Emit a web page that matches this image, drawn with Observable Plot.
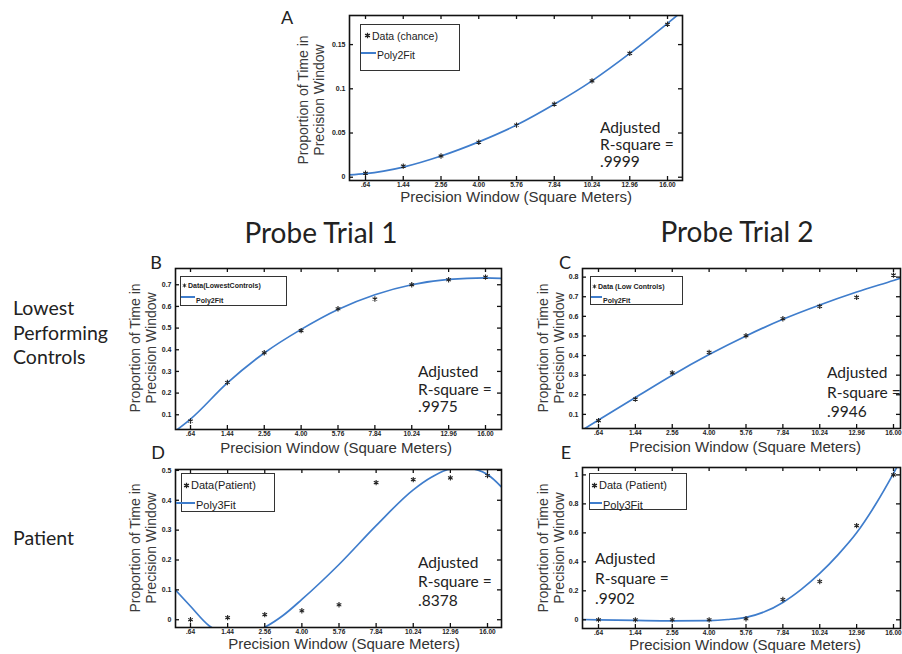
<!DOCTYPE html>
<html><head><meta charset="utf-8">
<script src="https://cdn.jsdelivr.net/npm/d3@7"></script>
<script src="https://cdn.jsdelivr.net/npm/@observablehq/plot@0.6"></script>
<style>
body{margin:0;background:#fff;}
#fig{position:relative;width:902px;height:654px;overflow:hidden;background:#fff;font-family:Lato,sans-serif;color:#222;}
.t{position:absolute;white-space:nowrap;}
.ylab{position:absolute;font-family:"Liberation Sans",Arial,sans-serif;font-size:14px;color:#3a3a3a;transform:translate(-50%,-50%) rotate(-90deg);text-align:center;line-height:16px;white-space:nowrap;}
.xlab{position:absolute;font-family:"Liberation Sans",Arial,sans-serif;font-size:15px;line-height:12px;color:#333;transform:translate(-50%,-50%);white-space:nowrap;}
.rsq{position:absolute;font-family:Lato,sans-serif;font-size:15.5px;color:#222;white-space:nowrap;}
.leg{position:absolute;border:1.5px solid #333;background:#fff;box-sizing:border-box;}
.let{position:absolute;font-family:Lato,sans-serif;font-size:18px;color:#222;transform:translate(-50%,-50%);}
</style></head>
<body><div id="fig"></div>
<script>
// ---------- data ----------
const xTickLabels = [".64","1.44","2.56","4.00","5.76","7.84","10.24","12.96","16.00"];
const windowIndex = [1,2,3,4,5,6,7,8,9];

const yTicksA = [0,0.05,0.1,0.15];
const yTickLabelsA = ["0","0.05","0.1","0.15"];
const dataA = [0.0045,0.0125,0.024,0.0396,0.059,0.0826,0.109,0.140,0.173];
const fitAx = [0.57,1,2,3,4,5,6,7,8,9,9.4];
const fitAy = [0.0026,0.004,0.0115,0.024,0.040,0.059,0.0825,0.109,0.140,0.174,0.188];

const yTicksB = [0.1,0.2,0.3,0.4,0.5,0.6,0.7];
const yTickLabelsB = ["0.1","0.2","0.3","0.4","0.5","0.6","0.7"];
const dataB = [0.071,0.249,0.386,0.488,0.589,0.634,0.700,0.723,0.735];
const fitBx = [0.59,1,2,3,4,5,6,7,8,9,9.44];
const fitBy = [0.025,0.08,0.247,0.385,0.494,0.586,0.654,0.700,0.725,0.732,0.729];

const yTicksC = [0.1,0.2,0.3,0.4,0.5,0.6,0.7,0.8];
const yTickLabelsC = ["0.1","0.2","0.3","0.4","0.5","0.6","0.7","0.8"];
const dataC = [0.068,0.178,0.312,0.416,0.501,0.588,0.651,0.697,0.81];
const fitCx = [0.56,1,2,3,4,5,6,7,8,9,9.2];
const fitCy = [0.02,0.071,0.186,0.300,0.405,0.500,0.585,0.658,0.724,0.783,0.795];

const yTicksD = [0,0.1,0.2,0.3,0.4,0.5];
const yTickLabelsD = ["0","0.1","0.2","0.3","0.4","0.5"];
const dataD = [0.0,0.007,0.017,0.030,0.050,0.459,0.469,0.475,0.483];
const fitDx = [0.59,1,1.5,2,2.5,3,3.5,4,5,6,7,7.5,8,8.5,9,9.38];
const fitDy = [0.1,0.045,-0.02,-0.046,-0.048,-0.025,0.015,0.068,0.185,0.315,0.435,0.478,0.504,0.506,0.486,0.444];

const yTicksE = [0,0.2,0.4,0.6,0.8,1];
const yTickLabelsE = ["0","0.2","0.4","0.6","0.8","1"];
const dataE = [0,0,0,0,0.007,0.14,0.264,0.65,1.0];
const fitEx = [0.56,1,2,3,4,4.5,5,5.5,6,6.5,7,7.5,8,8.5,9,9.19];
const fitEy = [0.002,0.0,-0.004,-0.007,-0.005,0.002,0.017,0.055,0.12,0.21,0.32,0.45,0.6,0.79,1.01,1.1];

// ---------- drawing ----------
const fig = document.getElementById("fig");
const blue = "#3f7dcc";

function drawPanel(p) {
  const padL = 30, padT = 6, padR = 6, padB = 14;
  const fw = p.R - p.L, fh = p.B - p.T;
  const pts = windowIndex.map((x,i)=>({x, y:p.data[i]}));
  const fit = p.fitX.map((x,i)=>({x, y:p.fitY[i]}));
  const tk = {stroke:"#111", strokeWidth:1.3};
  const svg = Plot.plot({
    width: fw+padL+padR, height: fh+padT+padB,
    marginLeft: padL, marginRight: padR, marginTop: padT, marginBottom: padB,
    x:{domain:p.xDomain}, y:{domain:p.yDomain},
    style:{background:"none", overflow:"visible", fontFamily:"Liberation Sans, Arial, sans-serif"},
    marks:[
      Plot.line(fit,{x:"x",y:"y",stroke:blue,strokeWidth:1.7,curve:"monotone-x",clip:true}),
      Plot.dot(pts,{x:"x",y:"y",symbol:"asterisk",r:2.5,stroke:"#222",strokeWidth:1.1}),
      Plot.tickX(windowIndex,{x:d=>d,insetTop:fh-4,...tk}),
      Plot.tickX(windowIndex,{x:d=>d,insetBottom:fh-4,...tk}),
      Plot.tickY(p.yTicks,{y:d=>d,insetRight:fw-4,...tk}),
      Plot.tickY(p.yTicks,{y:d=>d,insetLeft:fw-4,...tk}),
      Plot.axisX(windowIndex,{tickSize:0,tickPadding:2,tickFormat:d=>xTickLabels[d-1],fontSize:6.5,fontWeight:"bold",color:"#222",label:null}),
      Plot.axisY(p.yTicks,{tickSize:0,tickPadding:4,tickFormat:d=>p.yTickLabels[p.yTicks.indexOf(d)],fontSize:7,fontWeight:"bold",color:"#222",label:null}),
      Plot.frame({stroke:"#111",strokeWidth:1.6})
    ]
  });
  svg.style.position="absolute";
  svg.style.left=(p.L-padL)+"px";
  svg.style.top=(p.T-padT)+"px";
  fig.appendChild(svg);
}

function div(cls, html, x, y, extra) {
  const d = document.createElement("div");
  d.className = cls; d.innerHTML = html;
  d.style.left = x+"px"; d.style.top = y+"px";
  if (extra) Object.assign(d.style, extra);
  fig.appendChild(d);
  return d;
}

const star = (s)=>`<svg width="${s}" height="${s}" viewBox="-3 -3 6 6" style="vertical-align:middle"><path d="M0,-2.4V2.4M-2.1,-1.2L2.1,1.2M-2.1,1.2L2.1,-1.2" stroke="#222" stroke-width="1.1"/></svg>`;

function legend(b) {
  div("leg","",b.x,b.y,{width:b.w+"px",height:b.h+"px"});
  const f = `font-family:'Liberation Sans',Arial,sans-serif;font-size:${b.fs}px;font-weight:${b.fw};color:#222;`;
  div("t", star(b.ss)+`<span style="${f}margin-left:1px;vertical-align:middle">${b.t1}</span>`, b.sx, b.y1, {transform:"translateY(-50%)",lineHeight:"1"});
  const ln = document.createElement("div");
  Object.assign(ln.style,{position:"absolute",left:b.lx0+"px",top:(b.y2-1)+"px",width:(b.lx1-b.lx0)+"px",height:"2px",background:blue});
  fig.appendChild(ln);
  div("t", `<span style="${f}">${b.t2}</span>`, b.lx1+1, b.y2, {transform:"translateY(-50%)",lineHeight:"1"});
}

// Panel A
drawPanel({L:349,T:15,R:682,B:180,xDomain:[0.576,9.397],yDomain:[-0.0037,0.1829],yTicks:yTicksA,yTickLabels:yTickLabelsA,data:dataA,fitX:fitAx,fitY:fitAy});
// Panel B
drawPanel({L:175,T:268,R:501,B:429,xDomain:[0.593,9.434],yDomain:[0.032,0.775],yTicks:yTicksB,yTickLabels:yTickLabelsB,data:dataB,fitX:fitBx,fitY:fitBy});
// Panel C
drawPanel({L:582,T:268,R:900,B:428,xDomain:[0.566,9.19],yDomain:[0.028,0.844],yTicks:yTicksC,yTickLabels:yTickLabelsC,data:dataC,fitX:fitCx,fitY:fitCy});
// Panel D
drawPanel({L:175,T:469,R:501,B:627,xDomain:[0.596,9.377],yDomain:[-0.026,0.503],yTicks:yTicksD,yTickLabels:yTickLabelsD,data:dataD,fitX:fitDx,fitY:fitDy});
// Panel E
drawPanel({L:582,T:467,R:900,B:628,xDomain:[0.566,9.19],yDomain:[-0.06,1.051],yTicks:yTicksE,yTickLabels:yTickLabelsE,data:dataE,fitX:fitEx,fitY:fitEy});

// Legends
legend({x:360,y:24,w:100,h:47,sx:364,y1:34,ss:7,t1:"Data (chance)",lx0:361,lx1:376,y2:53,t2:"Poly2Fit",fs:10.5,fw:"normal"});
legend({x:180,y:276,w:107,h:30,sx:182,y1:284,ss:5,t1:"Data(LowestControls)",lx0:181,lx1:195,y2:297,t2:"Poly2Fit",fs:7,fw:"bold"});
legend({x:590,y:276,w:93,h:29,sx:592,y1:285,ss:5,t1:"Data (Low Controls)",lx0:591,lx1:602,y2:297,t2:"Poly2Fit",fs:7,fw:"bold"});
legend({x:181,y:473,w:94,h:39,sx:183,y1:484,ss:7,t1:"Data(Patient)",lx0:176,lx1:195,y2:503,t2:"Poly3Fit",fs:11,fw:"normal"});
legend({x:589,y:473,w:98,h:37,sx:591,y1:484,ss:7,t1:"Data (Patient)",lx0:590,lx1:602,y2:503,t2:"Poly3Fit",fs:11,fw:"normal"});

// Panel letters
div("let","A",287,17); div("let","B",156,262); div("let","C",565,262); div("let","D",158,452); div("let","E",566,452);

// Y-axis labels
const yl = "Proportion of Time in<br>Precision Window";
div("ylab",yl,311,100); div("ylab",yl,143,348); div("ylab",yl,551,348); div("ylab",yl,143,548); div("ylab",yl,551,548);

// X-axis labels
const xl = "Precision Window (Square Meters)";
div("xlab",xl,516,197); div("xlab",xl,336,448); div("xlab",xl,745,447); div("xlab",xl,344,644); div("xlab",xl,745,645);

// R-square annotations
div("rsq","Adjusted<br>R-square =<br>.9999",600,119,{lineHeight:"17px"});
div("rsq","Adjusted<br>R-square =<br>.9975",418,363,{lineHeight:"17.5px"});
div("rsq","Adjusted<br>R-square =<br>.9946",827,363,{lineHeight:"19.5px"});
div("rsq","Adjusted<br>R-square =<br>.8378",418,553,{lineHeight:"19px"});
div("rsq","Adjusted<br>R-square =<br>.9902",595,548,{lineHeight:"20px"});

// Column and row titles
div("t","Probe Trial 1",321,232,{fontSize:"28px",transform:"translate(-50%,-50%)",fontFamily:"Lato,sans-serif"});
div("t","Probe Trial 2",737,231,{fontSize:"28px",transform:"translate(-50%,-50%)",fontFamily:"Lato,sans-serif"});
div("t","Lowest<br>Performing<br>Controls",13,296,{fontSize:"19.5px",lineHeight:"24.5px"});
div("t","Patient",13,526,{fontSize:"19.5px",lineHeight:"24.5px"});
</script>
</body></html>
